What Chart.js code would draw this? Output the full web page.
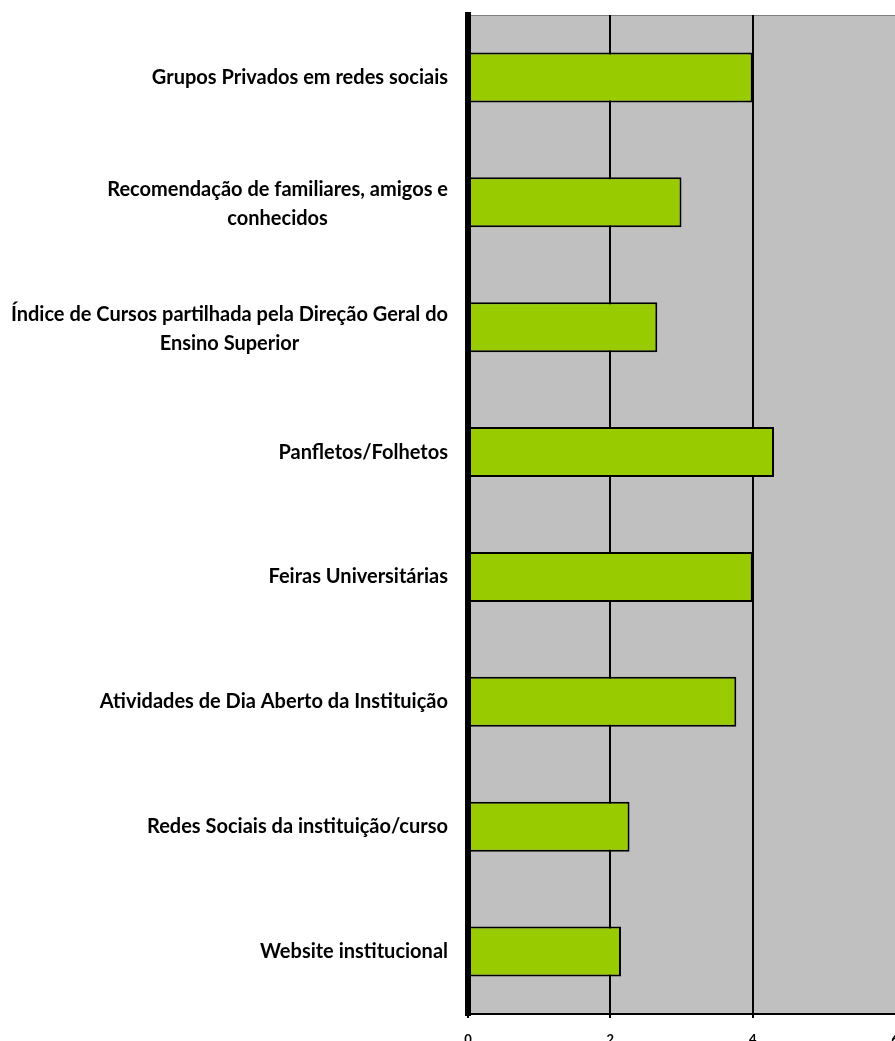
<!DOCTYPE html>
<html>
<head>
<meta charset="utf-8">
<script src="https://cdn.jsdelivr.net/npm/chart.js@4"></script>
<style>
  html, body { margin: 0; padding: 0; background: #fff; }
  #wrap { width: 895px; height: 1041px; position: relative; }
</style>
</head>
<body>
<div id="wrap"><canvas id="myChart" width="895" height="1041"></canvas></div>
<script>
const categories = [
  ['Grupos Privados em redes sociais'],
  ['Recomendação de familiares, amigos e', 'conhecidos'],
  ['Índice de Cursos partilhada pela Direção Geral do', 'Ensino Superior'],
  ['Panfletos/Folhetos'],
  ['Feiras Universitárias'],
  ['Atividades de Dia Aberto da Instituição'],
  ['Redes Sociais da instituição/curso'],
  ['Website institucional']
];
const values = [4.0, 3.0, 2.66, 4.3, 4.0, 3.77, 2.27, 2.15];
const xTicks = [0, 2, 4, 6];

const labelFont = 'bold 20px Lato';

// grey plot background + thin top border
const plotBg = {
  id: 'plotBg',
  beforeDraw(chart) {
    const { ctx, chartArea: a } = chart;
    ctx.save();
    ctx.fillStyle = '#c0c0c0';
    ctx.fillRect(a.left, a.top, a.right - a.left, a.bottom - a.top);
    ctx.strokeStyle = '#808080';
    ctx.lineWidth = 1;
    ctx.beginPath();
    ctx.moveTo(a.left, a.top + 0.5);
    ctx.lineTo(a.right, a.top + 0.5);
    ctx.stroke();
    ctx.restore();
  }
};

// category labels: block right-aligned, lines centred on each other
const catLabels = {
  id: 'catLabels',
  afterDraw(chart) {
    const { ctx } = chart;
    const y = chart.scales.y;
    const right = 448, lineH = 29;
    ctx.save();
    ctx.font = labelFont;
    ctx.fillStyle = '#000';
    ctx.textAlign = 'center';
    ctx.textBaseline = 'middle';
    categories.forEach((lines, i) => {
      const widest = Math.max(...lines.map(l => ctx.measureText(l).width));
      const cx = right - widest / 2;
      const cy = y.getPixelForValue(i) + (lines.length > 1 ? 2 : 0);
      const y0 = cy - (lines.length - 1) * lineH / 2;
      lines.forEach((l, k) => ctx.fillText(l, cx, y0 + k * lineH));
    });
    ctx.restore();
  }
};

const ctx = document.getElementById('myChart').getContext('2d');

new Chart(ctx, {
  type: 'bar',
  data: {
    labels: categories.map(c => c.join(' ')),
    datasets: [{
      data: values,
      backgroundColor: '#99cc00',
      borderColor: '#000',
      borderWidth: 2,
      borderSkipped: false,
      barPercentage: 0.4,
      categoryPercentage: 1
    }]
  },
  options: {
    indexAxis: 'y',
    responsive: false,
    animation: false,
    layout: { padding: { top: 15, right: 0, left: 0, bottom: 0 } },
    plugins: {
      legend: { display: false },
      tooltip: { enabled: false }
    },
    scales: {
      x: {
        min: 0,
        max: 6,
        afterBuildTicks: s => { s.ticks = xTicks.map(v => ({ value: v })); },
        afterFit: s => { s.height = 27; s.paddingLeft = 0; s.paddingRight = 0; },
        grid: {
          color: c => (c.tick && c.tick.value === 6 ? 'rgba(0,0,0,0)' : '#000'),
          lineWidth: 2,
          tickLength: 4
        },
        border: { color: '#000', width: 2 },
        ticks: {
          color: '#000',
          padding: 14,
          maxRotation: 0,
          font: { family: 'Lato', size: 13, weight: 'bold' }
        }
      },
      y: {
        afterFit: s => { s.width = 468; },
        ticks: { display: false },
        grid: { drawOnChartArea: false, color: '#000', lineWidth: 3, tickLength: 3, offset: true },
        border: { color: '#000', width: 6 }
      }
    }
  },
  plugins: [plotBg, catLabels]
});
</script>
</body>
</html>
